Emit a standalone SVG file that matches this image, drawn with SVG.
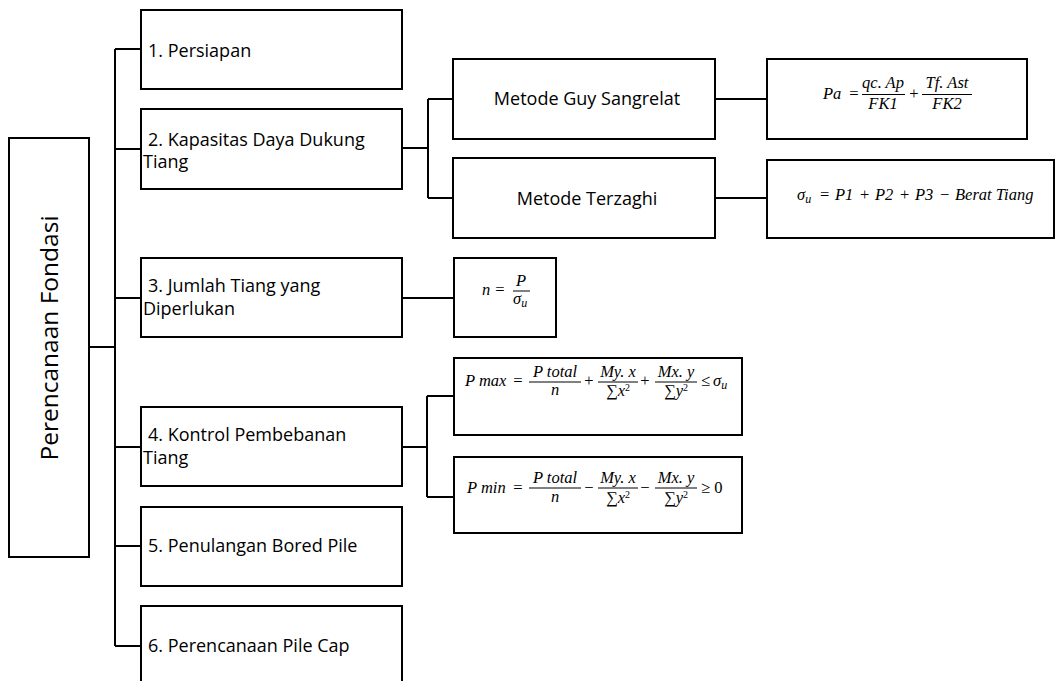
<svg xmlns="http://www.w3.org/2000/svg" width="1060" height="681" viewBox="0 0 1060 681">
<style>
.box{fill:#fff;stroke:#000;stroke-width:2}
.con{fill:none;stroke:#000;stroke-width:2}
.t{font-family:"Open Sans","Liberation Sans",sans-serif;font-size:18px;fill:#000}
.m{font-family:"Liberation Serif","DejaVu Serif",serif;font-style:italic;font-size:16.5px;fill:#000}
.up{font-style:normal}
.c{text-anchor:middle}
.bar{stroke:#000;stroke-width:1}
</style>
<rect width="1060" height="681" fill="#fff"/>
<g id="connectors">
<path class="con" d="M89 347H115M115 49V646M115 49H141M115 149H141M115 298H141M115 447H141M115 546H141M115 646H141"/>
<path class="con" d="M402 148H428M428 99V198M428 99H453M428 198H453"/>
<path class="con" d="M715 99H767M715 198H767"/>
<path class="con" d="M402 298H454"/>
<path class="con" d="M402 447H427M427 396V497M427 396H454M427 497H454"/>
</g>
<g id="root">
<rect class="box" x="9" y="138" width="80" height="419"/>
<text class="t c" style="font-size:24.5px" transform="translate(58,338) rotate(-90)">Perencanaan Fondasi</text>
</g>
<g id="n1">
<rect class="box" x="141" y="10" width="261" height="79"/>
<text class="t" x="148" y="57">1. Persiapan</text>
</g>
<g id="n2">
<rect class="box" x="141" y="109" width="261" height="80"/>
<text class="t" x="148" y="146">2. Kapasitas Daya Dukung</text>
<text class="t" x="143" y="168">Tiang</text>
</g>
<g id="n3">
<rect class="box" x="141" y="258" width="261" height="79"/>
<text class="t" x="148" y="292">3. Jumlah Tiang yang</text>
<text class="t" x="143" y="315">Diperlukan</text>
</g>
<g id="n4">
<rect class="box" x="141" y="407" width="261" height="79"/>
<text class="t" x="148" y="441">4. Kontrol Pembebanan</text>
<text class="t" x="143" y="464">Tiang</text>
</g>
<g id="n5">
<rect class="box" x="141" y="507" width="261" height="79"/>
<text class="t" x="148" y="552">5. Penulangan Bored Pile</text>
</g>
<g id="n6">
<rect class="box" x="141" y="606" width="261" height="90"/>
<text class="t" x="148" y="652">6. Perencanaan Pile Cap</text>
</g>
<g id="guy">
<rect class="box" x="453" y="59" width="262" height="80"/>
<text class="t c" x="587" y="105">Metode Guy Sangrelat</text>
</g>
<g id="terzaghi">
<rect class="box" x="453" y="158" width="262" height="80"/>
<text class="t c" x="587" y="205">Metode Terzaghi</text>
</g>
<g id="f-guy">
<rect class="box" x="767" y="59" width="260" height="80"/>
<text class="m" x="823" y="99">Pa</text>
<text class="m up c" x="854" y="99">=</text>
<text class="m c" x="883" y="88">qc. Ap</text>
<line class="bar" x1="862" y1="94.5" x2="905" y2="94.5"/>
<text class="m c" x="883" y="109">FK1</text>
<text class="m up c" x="914" y="99">+</text>
<text class="m c" x="947" y="88">Tf. Ast</text>
<line class="bar" x1="922" y1="94.5" x2="972" y2="94.5"/>
<text class="m c" x="947" y="109">FK2</text>
</g>
<g id="f-terzaghi">
<rect class="box" x="767" y="160" width="287" height="78"/>
<text class="m" y="200"><tspan x="797">σ</tspan><tspan dy="3" font-size="12">u</tspan><tspan class="up" x="820" dy="-3">=</tspan><tspan x="835">P1</tspan><tspan class="up" x="860">+</tspan><tspan x="875">P2</tspan><tspan class="up" x="900">+</tspan><tspan x="915">P3</tspan><tspan class="up" x="940">−</tspan><tspan x="955">Berat Tiang</tspan></text>
</g>
<g id="f-n">
<rect class="box" x="454" y="258" width="102" height="79"/>
<text class="m" x="482" y="295">n</text>
<text class="m up c" x="500" y="295">=</text>
<text class="m c" x="521" y="286">P</text>
<line class="bar" x1="513" y1="291" x2="530" y2="291"/>
<text class="m" x="513" y="304">σ<tspan dy="3" font-size="12">u</tspan></text>
</g>
<g id="f-pmax">
<rect class="box" x="454" y="358" width="288" height="77"/>
<text class="m" x="465" y="386">P max</text>
<text class="m up c" x="518" y="386">=</text>
<text class="m c" x="555" y="377">P total</text>
<line class="bar" x1="529" y1="382" x2="581" y2="382"/>
<text class="m c" x="555" y="395">n</text>
<text class="m up c" x="589" y="386">+</text>
<text class="m c" x="618" y="377">My. x</text>
<line class="bar" x1="598" y1="382" x2="638" y2="382"/>
<text class="m c" x="618" y="396"><tspan class="up">∑</tspan>x<tspan dy="-5" font-size="10" class="up">2</tspan></text>
<text class="m up c" x="645" y="386">+</text>
<text class="m c" x="676" y="377">Mx. y</text>
<line class="bar" x1="655" y1="382" x2="697" y2="382"/>
<text class="m c" x="676" y="396"><tspan class="up">∑</tspan>y<tspan dy="-5" font-size="10" class="up">2</tspan></text>
<text class="m" y="386"><tspan class="up" x="701">≤</tspan><tspan x="713">σ</tspan><tspan dy="3" font-size="12">u</tspan></text>
</g>
<g id="f-pmin">
<rect class="box" x="454" y="457" width="288" height="76"/>
<text class="m" x="467" y="493">P min</text>
<text class="m up c" x="518" y="493">=</text>
<text class="m c" x="555" y="483">P total</text>
<line class="bar" x1="529" y1="488" x2="581" y2="488"/>
<text class="m c" x="555" y="502">n</text>
<text class="m up c" x="589" y="493">−</text>
<text class="m c" x="618" y="483">My. x</text>
<line class="bar" x1="598" y1="488" x2="638" y2="488"/>
<text class="m c" x="618" y="503"><tspan class="up">∑</tspan>x<tspan dy="-5" font-size="10" class="up">2</tspan></text>
<text class="m up c" x="645" y="493">−</text>
<text class="m c" x="676" y="483">Mx. y</text>
<line class="bar" x1="655" y1="488" x2="697" y2="488"/>
<text class="m c" x="676" y="503"><tspan class="up">∑</tspan>y<tspan dy="-5" font-size="10" class="up">2</tspan></text>
<text class="m up" x="701" y="493">≥ 0</text>
</g>
</svg>
